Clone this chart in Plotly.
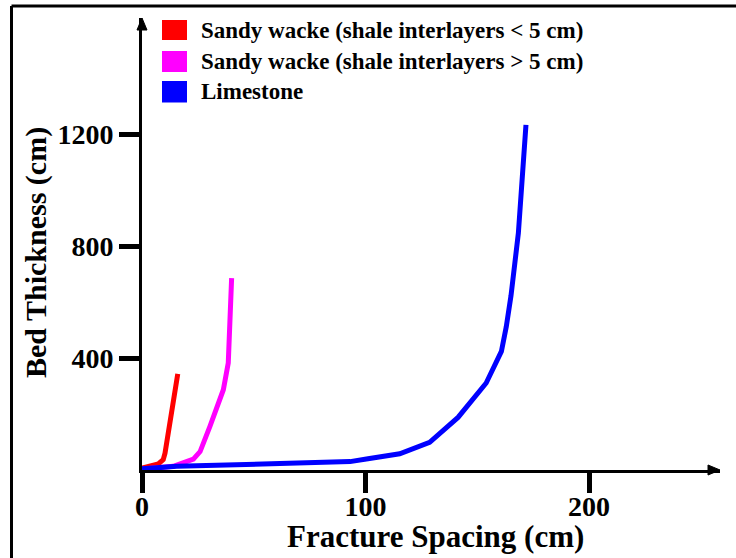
import plotly.graph_objects as go

# ---------------- data ----------------
series_names = [
    "Sandy wacke (shale interlayers < 5 cm)",
    "Sandy wacke (shale interlayers > 5 cm)",
    "Limestone",
]
series_colors = ["#FF0000", "#FF00FF", "#0000FF"]

red_x = [0, 7.3, 9.5, 10.3, 16.0]
red_y = [7, 22, 37, 60, 344]

magenta_x = [0.6, 14.0, 23.0, 26.0, 30.4, 36.4, 38.6, 40.1]
magenta_y = [4, 13, 39, 66, 156, 287, 383, 686]

blue_x = [0, 15.5, 61.7, 93.1, 101.1, 115.3, 128.7, 141.4, 154.0, 160.8, 163.0, 165.1, 168.4, 171.8]
blue_y = [4, 13, 23, 30, 40, 58, 99, 188, 311, 424, 513, 623, 847, 1234]

x_tickvals = [0, 100, 200]
x_ticktext = ["0", "100", "200"]
y_tickvals = [400, 800, 1200]
y_ticktext = ["400", "800", "1200"]

x_title = "Fracture Spacing (cm)"
y_title = "Bed Thickness (cm)"

# ---------------- layout geometry ----------------
W, H = 736, 558
L, R, T, B = 142, 16, 18, 88
PW, PH = W - L - R, H - T - B
X_RANGE = [0, PW / 2.235]
Y_RANGE = [0, PH / 0.2797]

def px(xp):
    return (xp - L) / PW

def py(yp):
    return (H - B - yp) / PH

FONT = "Times New Roman, Liberation Serif, serif"

fig = go.Figure()
for xs, ys, name, col in zip([red_x, magenta_x, blue_x], [red_y, magenta_y, blue_y],
                              series_names, series_colors):
    fig.add_trace(go.Scatter(x=xs, y=ys, mode="lines", name=name,
                             line=dict(color=col, width=5), showlegend=False))

shapes = []
annotations = []

# manual legend (square swatches)
rows = [(20, 40), (51, 72), (81, 102.5)]
for (y0p, y1p), name, col in zip(rows, series_names, series_colors):
    shapes.append(dict(type="rect", xref="paper", yref="paper",
                       x0=px(162), x1=px(187), y0=py(y1p), y1=py(y0p),
                       fillcolor=col, line=dict(width=0)))
    annotations.append(dict(xref="paper", yref="paper", x=px(199), y=py((y0p + y1p) / 2),
                            text="<b>%s</b>" % name, showarrow=False, xanchor="left",
                            yanchor="middle", font=dict(family=FONT, size=23, color="black")))

# axis titles
annotations.append(dict(xref="paper", yref="paper", x=px(435), y=py(536),
                        text="<b>%s</b>" % x_title, showarrow=False, xanchor="center",
                        yanchor="middle", font=dict(family=FONT, size=31, color="black")))
annotations.append(dict(xref="paper", yref="paper", x=px(36), y=py(253),
                        text="<b>%s</b>" % y_title, showarrow=False, xanchor="center",
                        yanchor="middle", textangle=-90,
                        font=dict(family=FONT, size=30, color="black")))

# arrowheads on axes
shapes.append(dict(type="path", xref="paper", yref="paper",
                   path="M %f,%f L %f,%f L %f,%f Z" % (px(720), py(470), px(708), py(465), px(708), py(475)),
                   fillcolor="black", line=dict(color="black", width=1)))
shapes.append(dict(type="path", xref="paper", yref="paper",
                   path="M %f,%f L %f,%f L %f,%f Z" % (px(142), py(18), px(137), py(30), px(147), py(30)),
                   fillcolor="black", line=dict(color="black", width=1)))

# outer frame (left and top edges)
shapes.append(dict(type="line", xref="paper", yref="paper",
                   x0=px(11.5), x1=px(11.5), y0=py(6), y1=py(600),
                   line=dict(color="black", width=3)))
shapes.append(dict(type="line", xref="paper", yref="paper",
                   x0=px(11.5), x1=px(760), y0=py(6), y1=py(6),
                   line=dict(color="black", width=3)))

fig.update_layout(
    width=W, height=H,
    margin=dict(l=L, r=R, t=T, b=B, autoexpand=False),
    paper_bgcolor="white", plot_bgcolor="white",
    shapes=shapes, annotations=annotations,
    showlegend=False,
    font=dict(family=FONT, color="black"),
)

fig.update_xaxes(range=X_RANGE, showgrid=False, zeroline=False, automargin=False,
                 showline=True, linecolor="black", linewidth=3,
                 ticks="outside", ticklen=20, tickwidth=5, tickcolor="black",
                 ticklabelstandoff=-11,
                 tickvals=x_tickvals, ticktext=["<b>%s</b>" % t for t in x_ticktext],
                 tickfont=dict(family=FONT, size=28, color="black"))
fig.update_yaxes(range=Y_RANGE, showgrid=False, zeroline=False, automargin=False,
                 showline=True, linecolor="black", linewidth=3,
                 ticks="outside", ticklen=20, tickwidth=5, tickcolor="black",
                 tickvals=y_tickvals, ticktext=["<b>%s</b>" % t for t in y_ticktext],
                 tickfont=dict(family=FONT, size=28, color="black"))

fig.write_html("out.html", config={"displayModeBar": False},
               post_script="document.body.style.margin='0';document.body.style.overflow='hidden';")
